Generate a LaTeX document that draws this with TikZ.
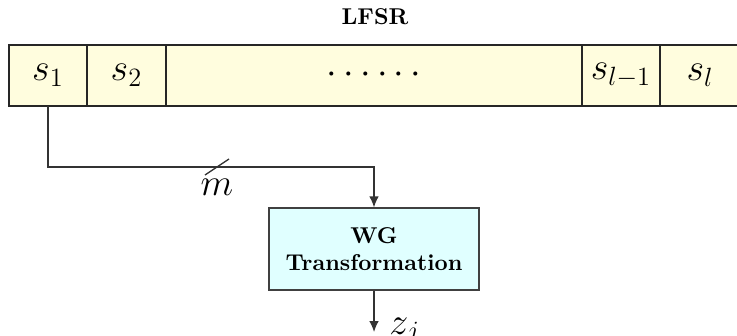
\documentclass[tikz,border=0pt]{standalone}
\usetikzlibrary{arrows.meta}
\definecolor{regfill}{RGB}{255,253,222}
\definecolor{boxfill}{RGB}{224,255,255}
\begin{document}
\begin{tikzpicture}[x=0.4545pt,y=-0.4545pt,
  cell/.style={draw=black!85,fill=regfill,line width=0.6pt,inner sep=0pt,outer sep=0pt,
    minimum height=61*0.4545pt,font=\LARGE},
  boldtext/.style={font=\fontsize{10.4}{12.6}\selectfont\bfseries},
  wgbox/.style={boldtext,draw=black!75,fill=boxfill,line width=0.6pt,align=center,
    minimum width=210*0.4545pt,minimum height=82*0.4545pt},
  conn/.style={draw=black!80,line width=0.6pt},
  tip/.style={-{Latex[length=5pt,width=4.4pt]}}]
\useasboundingbox (0,0) rectangle (737,335);

% title
\node[boldtext] (title) at (375,17) {LFSR};

% register cells
\node[cell,minimum width=78*0.4545pt] (s1) at (48,75.5) {$s_1$};
\node[cell,minimum width=79*0.4545pt] (s2) at (126.5,75.5) {$s_2$};
\node[cell,minimum width=416*0.4545pt] (dots) at (374,75.5) {$\cdots\cdots$};
\node[cell,minimum width=78*0.4545pt] (sl1) at (621,75.5) {$s_{l-1}$};
\node[cell,minimum width=80*0.4545pt] (sl) at (700,75.5) {$s_l$};

% WG transformation block
\node[wgbox] (wg) at (374,249) {WG\\Transformation};

% tap from the first stage into the block
\coordinate (bend) at (s1.south |- 0,167);
\draw[conn,tip] (s1.south) -- (bend) -| (wg.north);
\coordinate (slash) at (217,167);
\draw[conn] ([shift={(-12,8)}]slash) -- ([shift={(12,-8)}]slash);
\node[anchor=base,font=\LARGE] (m) at (217,195) {$m$};

% keystream output
\coordinate (out) at (wg.south |- 0,332);
\draw[conn,tip] (wg.south) -- (out);
\node[anchor=base west,font=\LARGE,inner sep=0pt] (zj) at (389,334) {$z_j$};
\end{tikzpicture}
\end{document}
